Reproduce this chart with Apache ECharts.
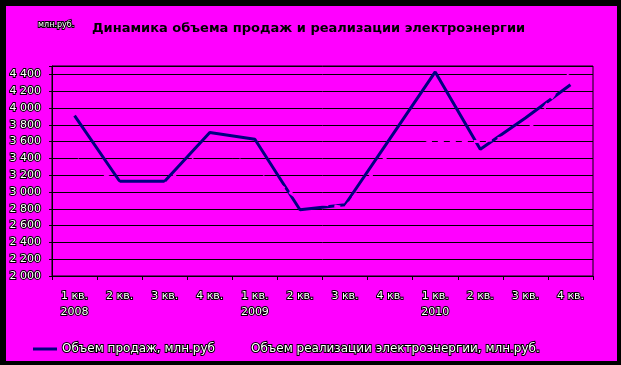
<!DOCTYPE html>
<html><head><meta charset="utf-8">
<script src="https://cdn.jsdelivr.net/npm/echarts@6/dist/echarts.min.js"></script>
<style>html,body{margin:0;padding:0;background:#000}</style>
</head><body>
<div style="position:relative;width:621px;height:365px;background:#000">
  <div style="position:absolute;left:6px;top:6px;width:611px;height:355px;background:#ff00ff"></div>
  <div id="c" style="position:absolute;left:0;top:0;width:621px;height:365px"></div>
</div>
<script>
var quarters = ['1 кв.', '2 кв.', '3 кв.', '4 кв.', '1 кв.', '2 кв.', '3 кв.', '4 кв.', '1 кв.', '2 кв.', '3 кв.', '4 кв.'];
var years = ['2008', '', '', '', '2009', '', '', '', '2010', '', '', ''];
var salesVolume = [3910, 3128, 3128, 3709, 3628, 2788, 2848, 3638, 4429, 3508, 3880, 4276];
var electricitySales = [3450, 3090, 3090, 3560, 3290, 2910, 2810, 3480, 3610, 3600, 3690, 4430];
var seriesNames = ['Объем продаж, млн.руб', 'Объем реализации электроэнергии, млн.руб.'];
var yMin = 2000, yMax = 4500, yStep = 200;

var categories = quarters.map(function (q, i) { return years[i] ? q + '\n' + years[i] : q; });
var lbl = { color: '#fff', textBorderColor: '#000', textBorderWidth: 2, fontFamily: 'DejaVu Sans', fontSize: 11 };

var chart = echarts.init(document.getElementById('c'));
chart.setOption({
  animation: false,
  backgroundColor: 'transparent',
  title: [
    { text: 'Динамика объема продаж и реализации электроэнергии', left: 87, top: 17,
      textStyle: { color: '#000', fontWeight: 'bold', fontSize: 13, fontFamily: 'DejaVu Sans' } },
    { text: 'млн.руб.', left: 33, top: 16,
      textStyle: { color: '#fff', textBorderColor: '#000', textBorderWidth: 2, fontSize: 8, fontWeight: 'normal', fontFamily: 'DejaVu Sans' } }
  ],
  grid: { left: 52, right: 28, top: 66, bottom: 89, show: true, borderColor: '#000', borderWidth: 1, backgroundColor: 'transparent' },
  legend: {
    left: 28, top: 337, itemWidth: 24, itemHeight: 3, itemGap: 6, icon: 'rect',
    textStyle: Object.assign({}, lbl, { fontSize: 12 }),
    data: seriesNames
  },
  xAxis: {
    type: 'category', data: categories, boundaryGap: true,
    axisLine: { lineStyle: { color: '#000', width: 1 } },
    axisTick: { show: true, length: 4, lineStyle: { color: '#000' } },
    axisLabel: Object.assign({ interval: 0, margin: 12, lineHeight: 16 }, lbl),
    splitLine: { show: false }
  },
  yAxis: {
    type: 'value', min: yMin, max: yMax, interval: yStep,
    axisLine: { show: true, lineStyle: { color: '#000', width: 1 } },
    axisTick: { show: true, length: 3, lineStyle: { color: '#000' } },
    axisLabel: Object.assign({ margin: 11, formatter: function (v) {
      if (v % yStep !== 0) return '';
      var s = String(v); return s.slice(0, s.length - 3) + ' ' + s.slice(-3);
    } }, lbl),
    splitLine: { show: true, lineStyle: { color: '#000', width: 1 } }
  },
  series: [
    { name: seriesNames[0], type: 'line', data: salesVolume, symbol: 'none', z: 3,
      itemStyle: { color: '#000080' }, lineStyle: { color: '#000080', width: 3 } },
    { name: seriesNames[1], type: 'line', data: electricitySales, symbol: 'none', z: 4,
      itemStyle: { color: '#ff00ff' }, lineStyle: { color: '#ff00ff', width: 3, type: [6, 6] } }
  ]
});
</script>
</body></html>
